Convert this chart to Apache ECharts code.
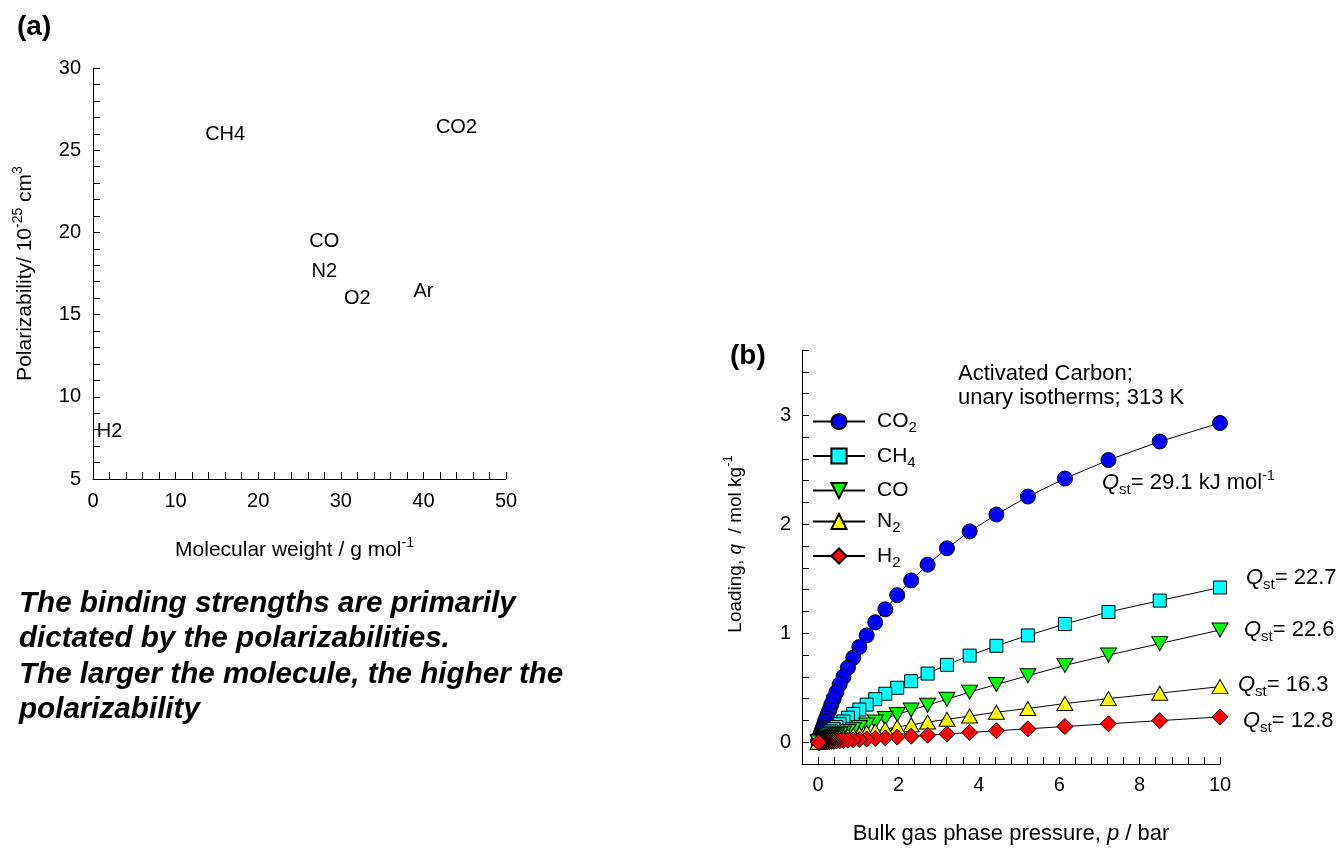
<!DOCTYPE html>
<html>
<head>
<meta charset="utf-8">
<script src="https://cdn.jsdelivr.net/npm/echarts@6/dist/echarts.min.js"></script>
<style>
html,body{margin:0;padding:0;background:#fff;}
#chart{width:1337px;height:850px;}
</style>
</head>
<body>
<div id="chart"></div>
<script>
// ---------- Panel (a): polarizability vs molecular weight ----------
const gasNames = ['H2', 'CH4', 'CO', 'N2', 'O2', 'Ar', 'CO2'];
const molWeights = [2, 16, 28, 28, 32, 40, 44];
const polarizabilities = [7.9, 25.95, 19.45, 17.6, 16.0, 16.4, 26.4];

// ---------- Panel (b): unary isotherms, activated carbon, 313 K ----------
const seriesNames = ['CO2', 'CH4', 'CO', 'N2', 'H2'];
const pressures = [10, 8.5, 7.225, 6.141, 5.22, 4.437, 3.771, 3.206, 2.725, 2.316,
  1.969, 1.673, 1.422, 1.209, 1.028, 0.874, 0.743, 0.631, 0.536, 0.456,
  0.388, 0.329, 0.28, 0.238, 0.202, 0.172, 0.146, 0.124, 0.106, 0.09,
  0.076, 0.065, 0.055, 0.047, 0.04, 0.034, 0.029, 0.024, 0.021, 0.018,
  0.015, 0.013, 0.011, 0.009];
const loadCO2 = [2.93, 2.76, 2.59, 2.42, 2.255, 2.09, 1.935, 1.78, 1.63, 1.485,
  1.35, 1.22, 1.10, 0.98, 0.875, 0.775, 0.685, 0.60, 0.53, 0.46,
  0.40, 0.345, 0.295, 0.255, 0.22, 0.19, 0.16, 0.135, 0.115, 0.10,
  0.085, 0.07, 0.06, 0.05, 0.045, 0.038, 0.032, 0.027, 0.023, 0.019,
  0.016, 0.014, 0.012, 0.01];
const loadCH4 = [1.42, 1.30, 1.195, 1.085, 0.98, 0.885, 0.795, 0.71, 0.63, 0.56,
  0.50, 0.445, 0.395, 0.345, 0.30, 0.26, 0.225, 0.19, 0.165, 0.14,
  0.12, 0.10, 0.087, 0.074, 0.063, 0.053, 0.045, 0.039, 0.033, 0.028,
  0.024, 0.02, 0.017, 0.015, 0.012, 0.011, 0.009, 0.008, 0.0065, 0.0055,
  0.0047, 0.004, 0.0035, 0.003];
const loadCO = [1.03, 0.905, 0.80, 0.705, 0.61, 0.53, 0.46, 0.395, 0.34, 0.295,
  0.255, 0.217, 0.186, 0.158, 0.135, 0.115, 0.098, 0.083, 0.071, 0.06,
  0.051, 0.043, 0.037, 0.031, 0.027, 0.023, 0.019, 0.016, 0.014, 0.012,
  0.01, 0.0085, 0.0072, 0.0062, 0.0052, 0.0045, 0.0038, 0.0032, 0.0027, 0.0023,
  0.002, 0.0017, 0.0014, 0.0012];
const loadN2 = [0.51, 0.45, 0.40, 0.355, 0.31, 0.275, 0.24, 0.21, 0.185, 0.16,
  0.14, 0.12, 0.104, 0.089, 0.076, 0.065, 0.056, 0.048, 0.041, 0.035,
  0.03, 0.025, 0.021, 0.018, 0.015, 0.013, 0.011, 0.0095, 0.0081, 0.0069,
  0.0058, 0.005, 0.0042, 0.0036, 0.003, 0.0026, 0.0022, 0.0018, 0.0016, 0.0014,
  0.0012, 0.001, 0.0008, 0.0007];
const loadH2 = [0.232, 0.198, 0.169, 0.144, 0.123, 0.105, 0.089, 0.076, 0.065, 0.055,
  0.047, 0.04, 0.034, 0.029, 0.024, 0.021, 0.018, 0.015, 0.013, 0.011,
  0.0093, 0.0079, 0.0067, 0.0057, 0.0048, 0.0041, 0.0035, 0.003, 0.0025, 0.0022,
  0.0018, 0.0016, 0.0013, 0.0011, 0.001, 0.0008, 0.0007, 0.0006, 0.0005, 0.0004,
  0.00036, 0.0003, 0.00026, 0.0002];
const qstValues = ['29.1', '22.7', '22.6', '16.3', '12.8'];

const FONT = "'Liberation Sans', Arial, Helvetica, sans-serif";
const BLACK = '#000000';

function makeRich(fs, sub, sup) {
  return {
    n: { fontSize: fs, fontFamily: FONT, color: BLACK, lineHeight: 28 },
    f: { fontSize: fs, fontFamily: FONT, color: BLACK, lineHeight: 28, padding: [0, 0, 0, 7] },
    i: { fontSize: fs, fontFamily: FONT, color: BLACK, lineHeight: 28, fontStyle: 'italic' },
    p: { fontSize: sup, fontFamily: FONT, color: BLACK, lineHeight: 12, verticalAlign: 'top' },
    s: { fontSize: sub, fontFamily: FONT, color: BLACK, lineHeight: 10, verticalAlign: 'bottom' }
  };
}
const richAxisA = makeRich(21, 14, 14);
const richAxisBx = makeRich(22, 14, 14);
const richAxisBy = makeRich(19, 13, 13);
const richLegend = makeRich(21, 15, 14);
const richNote = makeRich(22, 15, 14);

const legendText = {
  CO2: '{f|CO}{s|2}',
  CH4: '{f|CH}{s|4}',
  CO: '{f|CO}',
  N2: '{f|N}{s|2}',
  H2: '{f|H}{s|2}'
};

const seriesStyle = [
  { symbol: 'circle', size: 15, rotate: 0, color: '#0000ff', data: loadCO2 },
  { symbol: 'rect', size: 13, rotate: 0, color: '#00ffff', data: loadCH4 },
  { symbol: 'triangle', size: [16, 14], rotate: 180, color: '#00ff00', data: loadCO },
  { symbol: 'triangle', size: [16, 14], rotate: 0, color: '#ffff00', data: loadN2 },
  { symbol: 'diamond', size: 16, rotate: 0, color: '#ff0000', data: loadH2 }
];

const tickCommon = { show: true, inside: true, length: 7, lineStyle: { color: BLACK, width: 1 } };
const axisLineCommon = { show: true, onZero: false, lineStyle: { color: BLACK, width: 1 } };
const labelCommon = { color: BLACK, fontSize: 20, fontFamily: FONT };

function isMultiple(v, step) {
  return Math.abs(v / step - Math.round(v / step)) < 1e-6;
}

const isothermSeries = seriesStyle.map((s, k) => ({
  name: seriesNames[k],
  type: 'line',
  xAxisIndex: 1,
  yAxisIndex: 1,
  data: pressures.map((p, i) => [p, s.data[i]]),
  symbol: s.symbol,
  symbolSize: s.size,
  symbolRotate: s.rotate,
  showAllSymbol: true,
  clip: false,
  silent: true,
  lineStyle: { color: BLACK, width: 1 },
  itemStyle: { color: s.color, borderColor: BLACK, borderWidth: 1 },
  emphasis: { disabled: true },
  animation: false
}));

const option = {
  animation: false,
  backgroundColor: '#ffffff',
  textStyle: { fontFamily: FONT },
  grid: [
    { left: 93, top: 68, width: 413, height: 411, containLabel: false },
    { left: 802, top: 350, width: 418, height: 414, containLabel: false }
  ],
  xAxis: [
    {
      gridIndex: 0, type: 'value', min: 0, max: 50, interval: 10,
      axisLine: axisLineCommon, axisTick: tickCommon,
      minorTick: { show: true, splitNumber: 5, length: 7, lineStyle: { color: BLACK, width: 1 } },
      splitLine: { show: false }, minorSplitLine: { show: false },
      axisLabel: Object.assign({ margin: 12 }, labelCommon),
      name: '{n|Molecular weight / g mol}{p|-1}',
      nameLocation: 'middle', nameGap: 57,
      nameTextStyle: { rich: richAxisA, padding: [0, 10, 0, 0] }
    },
    {
      gridIndex: 1, type: 'value', min: -0.4, max: 10, interval: 0.4,
      axisLine: axisLineCommon, axisTick: tickCommon,
      splitLine: { show: false },
      axisLabel: Object.assign({
        margin: 11,
        formatter: v => (v > -1e-9 && isMultiple(v, 2)) ? String(Math.round(v)) : ''
      }, labelCommon),
      name: '{n|Bulk gas phase pressure, }{i|p}{n| / bar}',
      nameLocation: 'middle', nameGap: 56,
      nameTextStyle: { rich: richAxisBx }
    }
  ],
  yAxis: [
    {
      gridIndex: 0, type: 'value', min: 5, max: 30, interval: 5,
      axisLine: axisLineCommon, axisTick: tickCommon,
      minorTick: { show: true, splitNumber: 5, length: 7, lineStyle: { color: BLACK, width: 1 } },
      splitLine: { show: false }, minorSplitLine: { show: false },
      axisLabel: Object.assign({ margin: 12 }, labelCommon),
      name: '{n|Polarizability/ 10}{p|-25}{n| cm}{p|3}',
      nameLocation: 'middle', nameGap: 54, nameRotate: 90,
      nameTextStyle: { rich: richAxisA }
    },
    {
      gridIndex: 1, type: 'value', min: -0.2, max: 3.6, interval: 0.2,
      axisLine: axisLineCommon, axisTick: tickCommon,
      splitLine: { show: false },
      axisLabel: Object.assign({
        margin: 11,
        formatter: v => (v > -1e-9 && isMultiple(v, 1)) ? String(Math.round(v)) : ''
      }, labelCommon),
      name: '{n|Loading, }{i|q}{n|  / mol kg}{p|-1}',
      nameLocation: 'middle', nameGap: 52, nameRotate: 90,
      nameTextStyle: { rich: richAxisBy, padding: [0, 0, 0, 26] }
    }
  ],
  legend: {
    data: seriesNames,
    orient: 'vertical',
    left: 812, top: 411,
    itemWidth: 52, itemHeight: 19, itemGap: 10,
    padding: 0,
    selectedMode: false,
    formatter: name => legendText[name],
    textStyle: { rich: richLegend }
  },
  series: [
    {
      type: 'scatter',
      xAxisIndex: 0, yAxisIndex: 0,
      data: gasNames.map((g, i) => ({ name: g, value: [molWeights[i], polarizabilities[i]] })),
      symbol: 'circle', symbolSize: 1,
      itemStyle: { color: 'rgba(255,255,255,0)' },
      label: {
        show: true, position: 'inside', formatter: '{b}',
        color: BLACK, opacity: 1, textBorderWidth: 0, textBorderColor: 'transparent',
        fontSize: 20, fontFamily: FONT
      },
      silent: true,
      emphasis: { disabled: true },
      animation: false
    }
  ].concat(isothermSeries),
  graphic: [
    { type: 'text', x: 17, y: 27, style: { text: '(a)', fill: BLACK, fontSize: 28, fontWeight: 'bold', fontFamily: FONT, align: 'left', verticalAlign: 'middle' } },
    { type: 'text', x: 730, y: 356, style: { text: '(b)', fill: BLACK, fontSize: 28, fontWeight: 'bold', fontFamily: FONT, align: 'left', verticalAlign: 'middle' } },
    { type: 'text', x: 19, y: 586, style: {
        text: 'The binding strengths are primarily\ndictated by the polarizabilities.\nThe larger the molecule, the higher the\npolarizability',
        fill: BLACK, fontSize: 29.6, fontWeight: 'bold', fontStyle: 'italic', fontFamily: FONT,
        lineHeight: 35.5, align: 'left', verticalAlign: 'top' } },
    { type: 'text', x: 958, y: 362.5, style: {
        text: 'Activated Carbon;\nunary isotherms; 313 K',
        fill: BLACK, fontSize: 22, fontFamily: FONT, lineHeight: 23.5, align: 'left', verticalAlign: 'top' } },
    { type: 'text', x: 1102, y: 483, style: { text: '{i|Q}{s|st}{n|= ' + qstValues[0] + ' kJ mol}{p|-1}', rich: richNote, align: 'left', verticalAlign: 'middle' } },
    { type: 'text', x: 1246, y: 578, style: { text: '{i|Q}{s|st}{n|= ' + qstValues[1] + '}', rich: richNote, align: 'left', verticalAlign: 'middle' } },
    { type: 'text', x: 1244, y: 630, style: { text: '{i|Q}{s|st}{n|= ' + qstValues[2] + '}', rich: richNote, align: 'left', verticalAlign: 'middle' } },
    { type: 'text', x: 1238, y: 685, style: { text: '{i|Q}{s|st}{n|= ' + qstValues[3] + '}', rich: richNote, align: 'left', verticalAlign: 'middle' } },
    { type: 'text', x: 1243, y: 721, style: { text: '{i|Q}{s|st}{n|= ' + qstValues[4] + '}', rich: richNote, align: 'left', verticalAlign: 'middle' } }
  ]
};

const chart = echarts.init(document.getElementById('chart'), null, { renderer: 'canvas' });
chart.setOption(option);
</script>
</body>
</html>
